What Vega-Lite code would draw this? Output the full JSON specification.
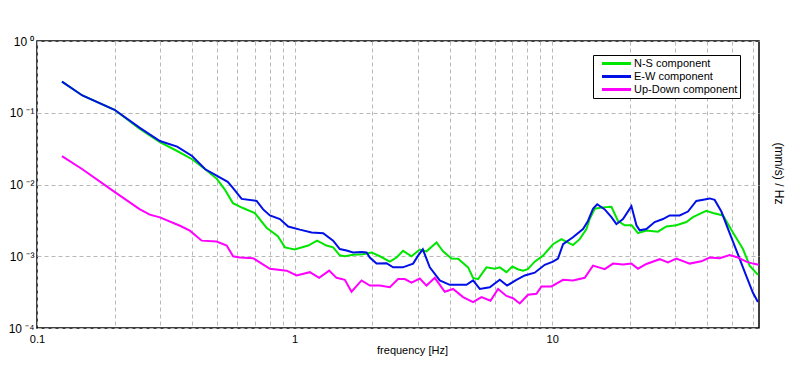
{
"$schema": "https://vega.github.io/schema/vega-lite/v6.json",
"width": 722, "height": 287,
"autosize": "none",
"padding": {"left": 37, "top": 41, "right": 37, "bottom": 42},
"background": "white",
"config": {"font": "Liberation Sans", "view": {"stroke": "black", "strokeWidth": 1.5}},
"data": {"values": [
{"s":"N-S component","f":0.125,"v":0.272},{"s":"N-S component","f":0.15,"v":0.174},{"s":"N-S component","f":0.2,"v":0.11},{"s":"N-S component","f":0.25,"v":0.06},{"s":"N-S component","f":0.3,"v":0.039},{"s":"N-S component","f":0.35,"v":0.0293},{"s":"N-S component","f":0.4,"v":0.0225},{"s":"N-S component","f":0.45,"v":0.0163},{"s":"N-S component","f":0.5,"v":0.0119},{"s":"N-S component","f":0.536,"v":0.0085},{"s":"N-S component","f":0.576,"v":0.0055},{"s":"N-S component","f":0.63,"v":0.0047},{"s":"N-S component","f":0.701,"v":0.004},{"s":"N-S component","f":0.778,"v":0.0025},{"s":"N-S component","f":0.861,"v":0.0019},{"s":"N-S component","f":0.917,"v":0.00133},{"s":"N-S component","f":1.0,"v":0.00124},{"s":"N-S component","f":1.129,"v":0.00141},{"s":"N-S component","f":1.223,"v":0.00165},{"s":"N-S component","f":1.33,"v":0.00141},{"s":"N-S component","f":1.411,"v":0.00133},{"s":"N-S component","f":1.498,"v":0.00103},{"s":"N-S component","f":1.567,"v":0.001},{"s":"N-S component","f":1.687,"v":0.00105},{"s":"N-S component","f":1.84,"v":0.00107},{"s":"N-S component","f":1.989,"v":0.00113},{"s":"N-S component","f":2.142,"v":0.001},{"s":"N-S component","f":2.342,"v":0.00084},{"s":"N-S component","f":2.486,"v":0.00096},{"s":"N-S component","f":2.637,"v":0.00119},{"s":"N-S component","f":2.843,"v":0.001},{"s":"N-S component","f":3.062,"v":0.00124},{"s":"N-S component","f":3.251,"v":0.00117},{"s":"N-S component","f":3.555,"v":0.00156},{"s":"N-S component","f":3.771,"v":0.00117},{"s":"N-S component","f":4.064,"v":0.00093},{"s":"N-S component","f":4.311,"v":0.00092},{"s":"N-S component","f":4.715,"v":0.0007},{"s":"N-S component","f":4.93,"v":0.0005},{"s":"N-S component","f":5.155,"v":0.00048},{"s":"N-S component","f":5.557,"v":0.0007},{"s":"N-S component","f":5.984,"v":0.00067},{"s":"N-S component","f":6.258,"v":0.0007},{"s":"N-S component","f":6.643,"v":0.0006},{"s":"N-S component","f":7.009,"v":0.00072},{"s":"N-S component","f":7.35,"v":0.00066},{"s":"N-S component","f":7.706,"v":0.00063},{"s":"N-S component","f":8.038,"v":0.00066},{"s":"N-S component","f":8.554,"v":0.00084},{"s":"N-S component","f":9.213,"v":0.00102},{"s":"N-S component","f":10.07,"v":0.00147},{"s":"N-S component","f":10.86,"v":0.00173},{"s":"N-S component","f":12.04,"v":0.00143},{"s":"N-S component","f":12.79,"v":0.00173},{"s":"N-S component","f":13.58,"v":0.00239},{"s":"N-S component","f":13.98,"v":0.0033},{"s":"N-S component","f":14.62,"v":0.0046},{"s":"N-S component","f":15.75,"v":0.0048},{"s":"N-S component","f":16.98,"v":0.0049},{"s":"N-S component","f":18.01,"v":0.0031},{"s":"N-S component","f":19.12,"v":0.0027},{"s":"N-S component","f":20.35,"v":0.0027},{"s":"N-S component","f":21.53,"v":0.0021},{"s":"N-S component","f":23.21,"v":0.00228},{"s":"N-S component","f":25.74,"v":0.0022},{"s":"N-S component","f":27.75,"v":0.0026},{"s":"N-S component","f":30.34,"v":0.0027},{"s":"N-S component","f":33.18,"v":0.003},{"s":"N-S component","f":35.19,"v":0.0035},{"s":"N-S component","f":37.36,"v":0.0039},{"s":"N-S component","f":39.66,"v":0.0043},{"s":"N-S component","f":42.07,"v":0.004},{"s":"N-S component","f":46.01,"v":0.0037},{"s":"N-S component","f":50.3,"v":0.00215},{"s":"N-S component","f":55.02,"v":0.00126},{"s":"N-S component","f":58.41,"v":0.00074},{"s":"N-S component","f":62.89,"v":0.00055},
{"s":"E-W component","f":0.125,"v":0.272},{"s":"E-W component","f":0.15,"v":0.174},{"s":"E-W component","f":0.2,"v":0.11},{"s":"E-W component","f":0.25,"v":0.062},{"s":"E-W component","f":0.3,"v":0.0403},{"s":"E-W component","f":0.35,"v":0.0337},{"s":"E-W component","f":0.4,"v":0.025},{"s":"E-W component","f":0.45,"v":0.0163},{"s":"E-W component","f":0.5,"v":0.0132},{"s":"E-W component","f":0.55,"v":0.0109},{"s":"E-W component","f":0.576,"v":0.009},{"s":"E-W component","f":0.623,"v":0.0063},{"s":"E-W component","f":0.712,"v":0.0059},{"s":"E-W component","f":0.755,"v":0.0045},{"s":"E-W component","f":0.802,"v":0.0037},{"s":"E-W component","f":0.877,"v":0.0033},{"s":"E-W component","f":0.944,"v":0.0026},{"s":"E-W component","f":1.048,"v":0.00235},{"s":"E-W component","f":1.164,"v":0.00215},{"s":"E-W component","f":1.291,"v":0.0021},{"s":"E-W component","f":1.411,"v":0.00165},{"s":"E-W component","f":1.498,"v":0.00126},{"s":"E-W component","f":1.591,"v":0.0012},{"s":"E-W component","f":1.687,"v":0.00113},{"s":"E-W component","f":1.819,"v":0.00115},{"s":"E-W component","f":1.902,"v":0.00113},{"s":"E-W component","f":1.959,"v":0.00096},{"s":"E-W component","f":2.08,"v":0.00079},{"s":"E-W component","f":2.274,"v":0.0008},{"s":"E-W component","f":2.412,"v":0.0007},{"s":"E-W component","f":2.63,"v":0.0007},{"s":"E-W component","f":2.884,"v":0.00079},{"s":"E-W component","f":3.016,"v":0.00102},{"s":"E-W component","f":3.146,"v":0.00125},{"s":"E-W component","f":3.348,"v":0.0007},{"s":"E-W component","f":3.661,"v":0.00046},{"s":"E-W component","f":4.003,"v":0.0004},{"s":"E-W component","f":4.378,"v":0.0004},{"s":"E-W component","f":4.648,"v":0.0004},{"s":"E-W component","f":4.93,"v":0.00046},{"s":"E-W component","f":5.234,"v":0.00035},{"s":"E-W component","f":5.724,"v":0.00037},{"s":"E-W component","f":6.258,"v":0.00047},{"s":"E-W component","f":6.68,"v":0.00039},{"s":"E-W component","f":7.264,"v":0.00047},{"s":"E-W component","f":7.824,"v":0.00054},{"s":"E-W component","f":8.554,"v":0.00059},{"s":"E-W component","f":9.354,"v":0.00076},{"s":"E-W component","f":10.07,"v":0.00084},{"s":"E-W component","f":10.53,"v":0.00093},{"s":"E-W component","f":11.02,"v":0.00147},{"s":"E-W component","f":12.04,"v":0.00184},{"s":"E-W component","f":13.17,"v":0.00239},{"s":"E-W component","f":13.77,"v":0.0031},{"s":"E-W component","f":14.4,"v":0.0046},{"s":"E-W component","f":14.95,"v":0.0053},{"s":"E-W component","f":15.99,"v":0.0045},{"s":"E-W component","f":16.98,"v":0.0035},{"s":"E-W component","f":17.75,"v":0.0028},{"s":"E-W component","f":18.83,"v":0.0033},{"s":"E-W component","f":20.3,"v":0.005},{"s":"E-W component","f":21.23,"v":0.0027},{"s":"E-W component","f":21.86,"v":0.0023},{"s":"E-W component","f":23.21,"v":0.0024},{"s":"E-W component","f":24.99,"v":0.003},{"s":"E-W component","f":26.92,"v":0.0033},{"s":"E-W component","f":28.58,"v":0.0037},{"s":"E-W component","f":31.25,"v":0.0037},{"s":"E-W component","f":33.65,"v":0.0042},{"s":"E-W component","f":36.27,"v":0.0059},{"s":"E-W component","f":39.07,"v":0.0062},{"s":"E-W component","f":40.86,"v":0.0064},{"s":"E-W component","f":42.72,"v":0.0061},{"s":"E-W component","f":45.36,"v":0.0042},{"s":"E-W component","f":48.85,"v":0.0021},{"s":"E-W component","f":52.6,"v":0.00106},{"s":"E-W component","f":56.71,"v":0.00053},{"s":"E-W component","f":60.15,"v":0.00031},{"s":"E-W component","f":62.89,"v":0.00023},
{"s":"Up-Down component","f":0.125,"v":0.0249},{"s":"Up-Down component","f":0.15,"v":0.0163},{"s":"Up-Down component","f":0.2,"v":0.0079},{"s":"Up-Down component","f":0.25,"v":0.00454},{"s":"Up-Down component","f":0.274,"v":0.0038},{"s":"Up-Down component","f":0.3,"v":0.00348},{"s":"Up-Down component","f":0.359,"v":0.00266},{"s":"Up-Down component","f":0.392,"v":0.00227},{"s":"Up-Down component","f":0.436,"v":0.00165},{"s":"Up-Down component","f":0.498,"v":0.0016},{"s":"Up-Down component","f":0.545,"v":0.00141},{"s":"Up-Down component","f":0.577,"v":0.001},{"s":"Up-Down component","f":0.613,"v":0.00096},{"s":"Up-Down component","f":0.69,"v":0.00094},{"s":"Up-Down component","f":0.802,"v":0.00067},{"s":"Up-Down component","f":0.931,"v":0.00063},{"s":"Up-Down component","f":1.018,"v":0.00054},{"s":"Up-Down component","f":1.146,"v":0.0006},{"s":"Up-Down component","f":1.245,"v":0.0005},{"s":"Up-Down component","f":1.362,"v":0.00063},{"s":"Up-Down component","f":1.455,"v":0.0005},{"s":"Up-Down component","f":1.567,"v":0.00047},{"s":"Up-Down component","f":1.663,"v":0.00032},{"s":"Up-Down component","f":1.819,"v":0.00046},{"s":"Up-Down component","f":1.959,"v":0.00039},{"s":"Up-Down component","f":2.142,"v":0.00039},{"s":"Up-Down component","f":2.342,"v":0.00037},{"s":"Up-Down component","f":2.522,"v":0.00048},{"s":"Up-Down component","f":2.677,"v":0.00048},{"s":"Up-Down component","f":2.843,"v":0.00043},{"s":"Up-Down component","f":3.062,"v":0.00049},{"s":"Up-Down component","f":3.251,"v":0.00039},{"s":"Up-Down component","f":3.501,"v":0.0005},{"s":"Up-Down component","f":3.828,"v":0.00032},{"s":"Up-Down component","f":4.123,"v":0.00035},{"s":"Up-Down component","f":4.508,"v":0.00027},{"s":"Up-Down component","f":4.93,"v":0.00023},{"s":"Up-Down component","f":5.314,"v":0.00027},{"s":"Up-Down component","f":5.76,"v":0.00024},{"s":"Up-Down component","f":6.164,"v":0.00035},{"s":"Up-Down component","f":6.643,"v":0.00028},{"s":"Up-Down component","f":7.047,"v":0.00026},{"s":"Up-Down component","f":7.482,"v":0.00022},{"s":"Up-Down component","f":8.056,"v":0.00029},{"s":"Up-Down component","f":8.686,"v":0.0003},{"s":"Up-Down component","f":9.082,"v":0.00038},{"s":"Up-Down component","f":9.93,"v":0.00038},{"s":"Up-Down component","f":11.02,"v":0.00047},{"s":"Up-Down component","f":12.04,"v":0.00046},{"s":"Up-Down component","f":13.37,"v":0.0005},{"s":"Up-Down component","f":14.4,"v":0.00074},{"s":"Up-Down component","f":15.99,"v":0.00066},{"s":"Up-Down component","f":17.22,"v":0.00079},{"s":"Up-Down component","f":18.83,"v":0.00077},{"s":"Up-Down component","f":20.3,"v":0.00079},{"s":"Up-Down component","f":21.53,"v":0.00067},{"s":"Up-Down component","f":23.21,"v":0.00078},{"s":"Up-Down component","f":26.14,"v":0.00091},{"s":"Up-Down component","f":28.14,"v":0.00082},{"s":"Up-Down component","f":30.34,"v":0.00093},{"s":"Up-Down component","f":34.17,"v":0.00079},{"s":"Up-Down component","f":37.93,"v":0.00085},{"s":"Up-Down component","f":40.86,"v":0.00096},{"s":"Up-Down component","f":44.67,"v":0.00094},{"s":"Up-Down component","f":48.85,"v":0.00104},{"s":"Up-Down component","f":52.6,"v":0.00096},{"s":"Up-Down component","f":56.71,"v":0.00084},{"s":"Up-Down component","f":60.15,"v":0.00079},{"s":"Up-Down component","f":63.3,"v":0.00076}
]},
"mark": {"type": "line", "strokeWidth": 2, "clip": true},
"encoding": {
  "x": {"field": "f", "type": "quantitative",
    "scale": {"type": "log", "domain": [0.1, 63.5], "nice": false},
    "axis": {"values": [0.1,0.2,0.3,0.4,0.5,0.6,0.7,0.8,0.9,1,2,3,4,5,6,7,8,9,10,20,30,40,50,60],
      "labelExpr": "datum.value == 0.1 ? '0.1' : datum.value == 1 ? '1' : datum.value == 10 ? '10' : ''",
      "grid": true, "gridDash": [4, 3], "gridColor": "#b8b8b8", "gridOpacity": 1, "gridWidth": 1,
      "ticks": false, "domain": false, "labelFontSize": 11, "labelColor": "black", "labelPadding": 5,
      "labelFlush": false, "labelOverlap": false,
      "title": "frequency [Hz]", "titleFontSize": 11, "titleFontWeight": "normal", "titleColor": "black",
      "titlePadding": 0, "titleX": 375}},
  "y": {"field": "v", "type": "quantitative",
    "scale": {"type": "log", "domain": [0.0001, 1], "nice": false},
    "axis": {"values": [0.0001, 0.001, 0.01, 0.1, 1],
      "labelExpr": "datum.value >= 0.5 ? '10 ⁰' : datum.value >= 0.05 ? '10 ⁻¹' : datum.value >= 0.005 ? '10 ⁻²' : datum.value >= 0.0005 ? '10 ⁻³' : '10 ⁻⁴'",
      "grid": true, "gridDash": [4, 3], "gridColor": "#b8b8b8", "gridOpacity": 1, "gridWidth": 1,
      "ticks": false, "domain": false, "labelFontSize": 12, "labelColor": "black", "labelPadding": 3,
      "labelFlush": false, "labelOverlap": false,
      "title": "(mm/s) / Hz", "titleFontSize": 12, "titleFontWeight": "normal", "titleColor": "black",
      "titleAngle": 90, "titleX": 741, "titleY": 132, "titleAlign": "center", "titleBaseline": "middle"}},
  "color": {"field": "s", "type": "nominal",
    "scale": {"domain": ["N-S component", "E-W component", "Up-Down component"], "range": ["#00e600", "#0010e6", "#ff00ff"]},
    "legend": {"orient": "none", "legendX": 556, "legendY": 14, "title": null,
      "symbolType": "M-3,0H3", "symbolSize": 94, "symbolStrokeWidth": 3, "symbolOffset": 15,
      "labelFontSize": 11, "labelColor": "black", "labelOffset": 11, "rowPadding": 0,
      "padding": 2, "strokeColor": "black", "fillColor": "white"}}
}
}
